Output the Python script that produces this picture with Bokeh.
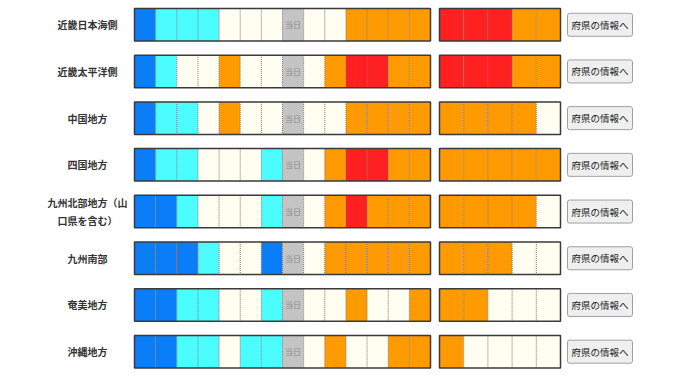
from bokeh.plotting import figure
from bokeh.models import ColumnDataSource, Range1d
from bokeh.core.properties import value
from bokeh.embed import file_html
from bokeh.resources import INLINE

regions = ["近畿日本海側", "近畿太平洋側", "中国地方", "四国地方",
           "九州北部地方（山\n口県を含む）", "九州南部", "奄美地方", "沖縄地方"]

# 0: かなり低い, 1: 低い, 2: 平年並, 3: 高い, 4: かなり高い, 9: 当日
week1 = [
    [0, 1, 1, 1, 2, 2, 2, 9, 2, 2, 3, 3, 3, 3],
    [0, 1, 2, 2, 3, 2, 2, 9, 2, 3, 4, 4, 3, 3],
    [0, 1, 1, 2, 3, 2, 2, 9, 2, 2, 3, 3, 3, 3],
    [0, 1, 1, 2, 2, 2, 1, 9, 2, 3, 4, 4, 3, 3],
    [0, 0, 1, 2, 2, 2, 1, 9, 2, 3, 4, 3, 3, 3],
    [0, 0, 0, 1, 2, 2, 0, 9, 2, 3, 3, 3, 3, 3],
    [0, 0, 1, 1, 2, 2, 1, 9, 2, 2, 3, 2, 2, 3],
    [0, 0, 1, 1, 2, 1, 1, 9, 2, 3, 2, 2, 3, 3],
]
week2 = [
    [4, 4, 4, 3, 3],
    [4, 4, 4, 3, 3],
    [3, 3, 3, 3, 2],
    [3, 3, 3, 3, 3],
    [3, 3, 3, 3, 2],
    [3, 3, 3, 2, 2],
    [3, 3, 2, 2, 2],
    [3, 2, 2, 2, 2],
]
today_label = "当日"
button_label = "府県の情報へ"

palette = {0: "#0A7DF8", 1: "#4CFDFF", 2: "#FFFEF0", 3: "#FF9A00",
           4: "#FF2020", 9: "#C4C4C4"}

# layout (page pixels)
ROW0, PITCH, RH = 8.0, 46.7, 32.5
B1_X0, B1_W = 134.0, (430.0 - 134.0) / 14
B2_X0, B2_W = 439.0, (560.0 - 439.0) / 5
LABEL_X = 87.0
BTN_L, BTN_R, BTN_H = 567.0, 632.0, 23.0

W, H = 672, 374
p = figure(width=W, height=H, x_range=Range1d(0, W), y_range=Range1d(H, 0),
           output_backend="svg", toolbar_location=None, min_border=0)
p.axis.visible = False
p.grid.visible = False
p.outline_line_color = None
p.background_fill_color = "white"
p.border_fill_color = "white"

cl, cr, ct, cb, cc = [], [], [], [], []
sx0, sx1, sy0, sy1 = [], [], [], []
bl, br, bt, bb = [], [], [], []
tx, ty = [], []
for i in range(len(regions)):
    top = ROW0 + i * PITCH
    bot = top + RH
    for x0, w, cells in ((B1_X0, B1_W, week1[i]), (B2_X0, B2_W, week2[i])):
        for j, v in enumerate(cells):
            cl.append(x0 + j * w)
            cr.append(x0 + (j + 1) * w)
            ct.append(top)
            cb.append(bot)
            cc.append(palette[v])
            if v == 9:
                tx.append(x0 + (j + 0.5) * w)
                ty.append((top + bot) / 2)
            if j > 0:
                sx0.append(x0 + j * w); sx1.append(x0 + j * w)
                sy0.append(top); sy1.append(bot)
        bl.append(x0); br.append(x0 + len(cells) * w)
        bt.append(top); bb.append(bot)

p.quad(left=cl, right=cr, top=ct, bottom=cb, fill_color=cc, line_color=None)
p.segment(x0=sx0, y0=sy0, x1=sx1, y1=sy1, line_color="#777777", line_width=1,
          line_dash="1 1")
p.quad(left=bl, right=br, top=bt, bottom=bb, fill_color=None, line_color="#3a3a3a",
       line_width=1.5)
p.text(x=tx, y=ty, text=[today_label] * len(tx), text_align="center",
       text_baseline="middle", text_font=value("Noto Sans CJK JP"),
       text_font_size="8px", text_color="#8a8a8a")

centers = [ROW0 + i * PITCH + RH / 2 for i in range(len(regions))]
p.text(x=[LABEL_X] * len(regions), y=centers, text=regions, text_align="center",
       text_baseline="middle", text_font=value("Noto Sans CJK JP"),
       text_font_style="bold", text_font_size="10px", text_color="#333333",
       text_line_height=1.2)

p.quad(left=[BTN_L] * len(regions), right=[BTN_R] * len(regions),
       top=[c - BTN_H / 2 for c in centers], bottom=[c + BTN_H / 2 for c in centers],
       fill_color="#EFEFEF", line_color="#A0A0A0", line_width=1, border_radius=2)
p.text(x=[(BTN_L + BTN_R) / 2] * len(regions), y=centers,
       text=[button_label] * len(regions), text_align="center",
       text_baseline="middle", text_font=value("Noto Sans CJK JP"),
       text_font_size="9.5px", text_color="#222222")

open("out.html", "w").write(file_html(p, INLINE))
